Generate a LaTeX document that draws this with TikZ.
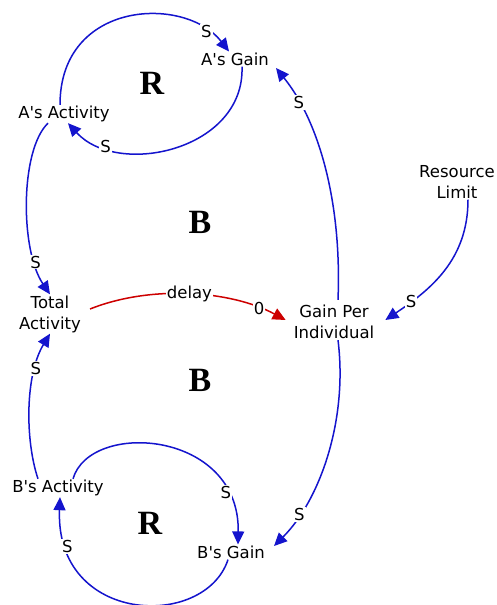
\documentclass[tikz,border=0pt]{standalone}
\usepackage{fontspec}
\setmainfont{DejaVu Sans}
\newfontfamily\loopfont{Liberation Serif}
\usetikzlibrary{arrows.meta}
\definecolor{linkblue}{RGB}{20,20,205}
\definecolor{linkred}{RGB}{205,0,0}
\newcommand\apo{\textquotesingle}
\tikzset{
  var/.style={inner sep=1pt, align=center, font=\fontsize{16.5}{21}\selectfont},
  looplab/.style={font=\loopfont\bfseries\fontsize{34}{34}\selectfont},
  link/.style={draw=linkblue, line width=1.5pt, -{Triangle[length=13pt,width=12pt,fill=linkblue]}},
  dlink/.style={draw=linkred, line width=1.5pt, -{Triangle[length=13pt,width=12pt,fill=linkred]}},
  pol/.style={fill=white, inner sep=1pt, font=\fontsize{16.5}{16.5}\selectfont},
}
\begin{document}
\begin{tikzpicture}[x=1pt,y=-1pt]
\useasboundingbox (0,0) rectangle (496,605);
\fill[white] (0,0) rectangle (496,605);
% variables
\node[var] (ag) at (235,59) {A\apo s Gain};
\node[var] (aa) at (64,114) {A\apo s Activity};
\node[var] (ta) at (50,314) {Total\\Activity};
\node[var] (gpi) at (334,322) {Gain Per\\Individual};
\node[var] (rl) at (457,182) {Resource\\Limit};
\node[var] (ba) at (58,488) {B\apo s Activity};
\node[var] (bg) at (231,552) {B\apo s Gain};
% loop markers
\node[looplab] (r1) at (152,83) {R};
\node[looplab] (b1) at (200,222) {B};
\node[looplab] (b2) at (200,380) {B};
\node[looplab] (r2) at (150,523) {R};
% links
\draw[link] ([xshift=-4pt]aa.north) .. controls (60,0) and (185,-5) .. node[pol,pos=0.86]{S} ([xshift=-6pt]ag.north);
\draw[link] ([xshift=7pt]ag.south) .. controls (245,150) and (118,178) .. node[pol,pos=0.8]{S} ([xshift=4pt]aa.south);
\draw[link] ([xshift=-16pt]aa.south) .. controls (20,150) and (20,250) .. node[pol,pos=0.8]{S} (ta.north);
\draw[link] ([xshift=-20pt]ba.north) .. controls (25,440) and (25,375) .. node[pol,pos=0.75]{S} (ta.south);
\draw[dlink] ([xshift=8pt,yshift=5pt]ta.east) .. controls (150,285) and (230,290) .. node[pol,pos=0.5]{delay} node[pol,pos=0.85]{0} ([xshift=-7pt,yshift=2pt]gpi.west);
\draw[link] ([xshift=4pt,yshift=4pt]gpi.north) .. controls (342,200) and (318,120) .. node[pol,pos=0.8]{S} ([xshift=6pt,yshift=-9pt]ag.east);
\draw[link] ([xshift=11pt]rl.south) .. controls (468,260) and (430,290) .. node[pol,pos=0.8]{S} ([xshift=10pt,yshift=2pt]gpi.east);
\draw[link] ([xshift=4pt]gpi.south) .. controls (348,420) and (320,500) .. node[pol,pos=0.8]{S} ([xshift=8pt,yshift=6pt]bg.east);
\draw[link] ([xshift=15pt]ba.north) .. controls (90,420) and (240,430) .. node[pol,pos=0.82]{S} ([xshift=7pt]bg.north);
\draw[link] ([xshift=-3pt]bg.south) .. controls (205,630) and (55,625) .. node[pol,pos=0.85]{S} ([xshift=2pt]ba.south);
\end{tikzpicture}
\end{document}
